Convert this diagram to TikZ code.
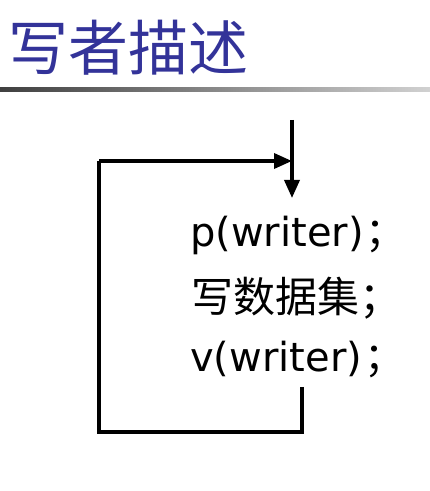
\documentclass[tikz,border=0pt]{standalone}
\usepackage{fontspec}
\setmainfont{DejaVu Sans}
\newfontfamily\cjk{Noto Sans CJK SC}
\usetikzlibrary{arrows.meta}
\definecolor{titleblue}{HTML}{333399}
\newcommand{\semi}{\hspace{2pt}{\cjk\fontsize{40}{44}\selectfont ；}}
\begin{document}
\begin{tikzpicture}[
        x = 1pt, y = 1pt,
        flow/.style = {line width = 3.5pt, -{Triangle[length = 18pt, width = 15pt]}},
        loopline/.style = {line width = 3.5pt},
        codeline/.style = {anchor = west, inner sep = 0pt, font = \fontsize{40}{44}\selectfont}
    ]
            \useasboundingbox (0, 0) rectangle (430, 491);
            \path
                (8, 443) node[anchor = west, inner sep = 0pt, text = titleblue,
                    font = \cjk\fontsize{60}{66}\selectfont] (title) {写者描述}
                (190, 256) node[codeline] (pw) {p(writer)\semi}
                (191, 193) node[codeline] (data) {\cjk\fontsize{42}{44}\selectfont 写数据集；}
                (190, 131) node[codeline] (vw) {v(writer)\semi}
            ;
            \shade[left color = black!75, right color = black!18]
                (0, 399) rectangle (430, 403);
            \coordinate (in) at (292, 371);
            \coordinate (entry) at (292, 293);
            \coordinate (out) at (302, 104);
            \coordinate (corner) at (99, 330);
            \draw[flow] (in) -- (entry);
            \draw[loopline]
                (out) |- (99, 59) -- (corner)
            ;
            \draw[flow] (corner) -- (in |- corner);
        \end{tikzpicture}
\end{document}
